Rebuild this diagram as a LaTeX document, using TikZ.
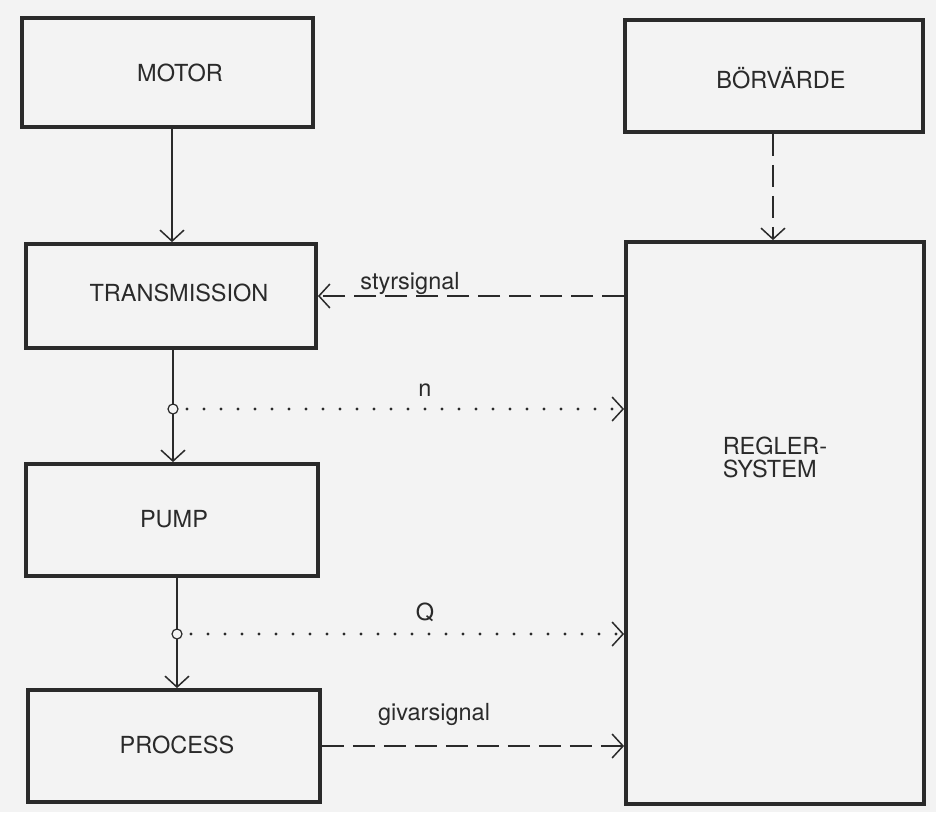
\documentclass[tikz,border=0pt]{standalone}
\usepackage{fontspec}
\setmainfont{TeX Gyre Heros}
\usetikzlibrary{arrows.meta}
\definecolor{paper}{HTML}{F3F3F3}
\definecolor{ink}{HTML}{2A2A2A}
\tikzset{
  blk/.style={draw=ink, line width=3.8pt, fill=none, inner sep=0pt},
  conn/.style={draw=ink, line width=1.5pt, -{Straight Barb[length=11pt,width=24pt,line width=1.5pt]}},
  dashconn/.style={conn, dash pattern=on 22pt off 9pt},
  dotconn/.style={conn, line cap=round, dash pattern=on 0pt off 17pt, line width=3.2pt},
  tap/.style={circle, draw=ink, fill=paper, line width=1.2pt, minimum size=10pt, inner sep=0pt},
  lbl/.style={text=ink, font=\fontsize{23.5}{25}\selectfont, inner sep=0pt}
}
\begin{document}
\begin{tikzpicture}[x=1pt,y=-1pt]
\fill[paper] (0,0) rectangle (936,812);
\useasboundingbox (0,0) rectangle (936,812);
% boxes
\node[blk, minimum width=291pt, minimum height=109pt] (motor) at (167.5,72.5) {};
\node[lbl] (motort) at (180,73) {MOTOR};
\node[blk, minimum width=298pt, minimum height=112pt] (borv) at (774,76) {};
\node[lbl] (borvt) at (781,78) {BÖRVÄRDE};
\node[blk, minimum width=290pt, minimum height=104pt] (trans) at (171,296) {};
\node[lbl] (transt) at (179,293) {TRANSMISSION};
\node[blk, minimum width=298pt, minimum height=562pt] (regler) at (775,523) {};
\node[lbl, align=left, font=\fontsize{23.5}{23}\selectfont] (reglert) at (775,457) {REGLER-\\SYSTEM};
\node[blk, minimum width=292pt, minimum height=112pt] (pump) at (172,520) {};
\node[lbl] (pumpt) at (174,519) {PUMP};
\node[blk, minimum width=292pt, minimum height=112pt] (process) at (174,746) {};
\node[lbl] (processt) at (177,745) {PROCESS};
% taps
\coordinate (c1) at (173,409);
\coordinate (c2) at (177,634);
% connectors
\draw[conn] (motor.south -| 172,0) -- (trans.north -| 172,0);
\draw[dashconn] (borv.south -| 773,0) -- (regler.north -| 773,0);
\draw[dashconn] (regler.west |- trans.east) -- (trans.east);
\draw[conn] (trans.south -| c1) -- (pump.north -| c1);
\draw[conn] (pump.south -| c2) -- (process.north -| c2);
\draw[dotconn] ([xshift=14pt]c1) -- (c1 -| regler.west);
\draw[dotconn] ([xshift=14pt]c2) -- (c2 -| regler.west);
\draw[dashconn] (process.east) -- (process.east -| regler.west);
\node[tap] (t1) at (c1) {};
\node[tap] (t2) at (c2) {};
% labels
\node[lbl] (ls) at (410,283) {styrsignal};
\node[lbl] (ln) at (425,390) {n};
\node[lbl] (lq) at (425,612) {Q};
\node[lbl] (lg) at (434,714) {givarsignal};
\end{tikzpicture}
\end{document}
